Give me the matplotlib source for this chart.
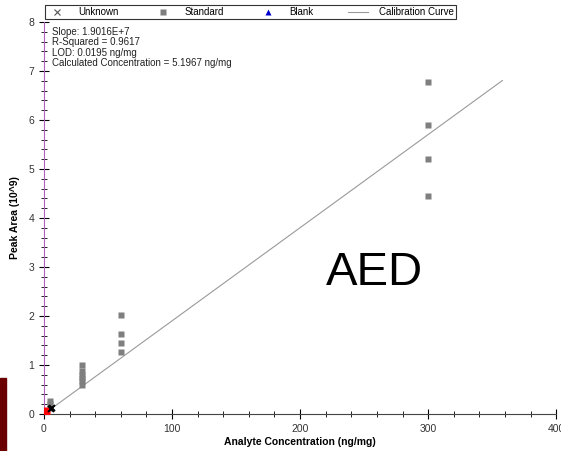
import matplotlib.pyplot as plt
import numpy as np
from matplotlib.lines import Line2D
from matplotlib.patches import Rectangle

# Standard replicates (concentration in ng/mg, peak area in 10^9)
std_conc = [5, 5, 5, 30, 30, 30, 30, 30, 30, 60, 60, 60, 60, 300, 300, 300, 300]
std_area = [0.12, 0.2, 0.27, 1.0, 0.88, 0.8, 0.74, 0.68, 0.6,
            2.02, 1.63, 1.45, 1.27, 6.78, 5.9, 5.2, 4.45]

# Unknown sample and blank
unk_conc = [5.1967, 6.5]
unk_area = [0.099, 0.12]
blank_conc = [1.5]
blank_area = [0.07]

slope = 0.019016   # peak area (10^9) per ng/mg
curve_x = np.array([0, 358])

plt.rcParams['font.family'] = 'Liberation Sans'

fig = plt.figure(figsize=(5.61, 4.51), dpi=100)
ax = fig.add_axes([0.0784, 0.082, 0.913, 0.869])

ax.plot(curve_x, slope * curve_x, color='#9a9a9a', lw=0.8, zorder=1)
ax.plot(std_conc, std_area, 's', color='#7f7f7f', ms=4.3, mec='none', zorder=2)
ax.plot(blank_conc, blank_area, 's', color='#ff0000', ms=6, mec='none', zorder=3)
ax.plot(unk_conc, unk_area, 'x', color='black', ms=5, mew=1.3, zorder=4)

ax.set_xlim(0, 400)
ax.set_ylim(0, 8)
ax.set_xticks(np.arange(0, 401, 100))
ax.set_xticks(np.arange(0, 401, 20), minor=True)
ax.set_yticks(np.arange(0, 9, 1))
ax.set_yticks(np.arange(0, 8.01, 0.2), minor=True)
ax.tick_params(which='both', direction='inout', labelsize=7.5, labelcolor='#333333')
ax.tick_params(which='major', length=7)
ax.tick_params(which='minor', length=4)

for side in ('top', 'right'):
    ax.spines[side].set_visible(False)
ax.spines['left'].set_color('#b060c0')
ax.spines['bottom'].set_color('#444444')

ax.set_xlabel('Analyte Concentration (ng/mg)', fontsize=7.5, fontweight='bold', labelpad=2)
ax.set_ylabel('Peak Area (10^9)', fontsize=7.5, fontweight='bold', labelpad=6)

stats = ('Slope: 1.9016E+7\nR-Squared = 0.9617\nLOD: 0.0195 ng/mg\n'
         'Calculated Concentration = 5.1967 ng/mg')
ax.text(0.016, 0.988, stats, transform=ax.transAxes, fontsize=7, va='top',
        linespacing=1.05, color='#222222')

ax.text(0.645, 0.36, 'AED', transform=ax.transAxes, fontsize=34,
        ha='center', va='center')

handles = [
    Line2D([], [], ls='none', marker='x', color='#555555', ms=5, mew=0.8),
    Line2D([], [], ls='none', marker='s', color='#7f7f7f', ms=4, mec='none'),
    Line2D([], [], ls='none', marker='^', color='#0000cc', ms=4, mec='none'),
    Line2D([], [], color='#9a9a9a', lw=0.8),
]
labels = ['Unknown', 'Standard', 'Blank', 'Calibration Curve']
leg = ax.legend(handles, labels, ncol=4, mode='expand', fontsize=7,
                bbox_to_anchor=(0.002, 1.007, 0.803, 0.036), loc='lower left',
                borderaxespad=0, fancybox=False, framealpha=1,
                edgecolor='#333333', handlelength=2, handletextpad=1.2,
                borderpad=0.2, columnspacing=1.0)
leg.get_frame().set_linewidth(0.8)

# dark red band at the left edge
fig.patches.append(Rectangle((0, 0), 6 / 561, 73 / 451, transform=fig.transFigure,
                             color='#6b0000', zorder=0))

fig.savefig('out.png', dpi=100)
